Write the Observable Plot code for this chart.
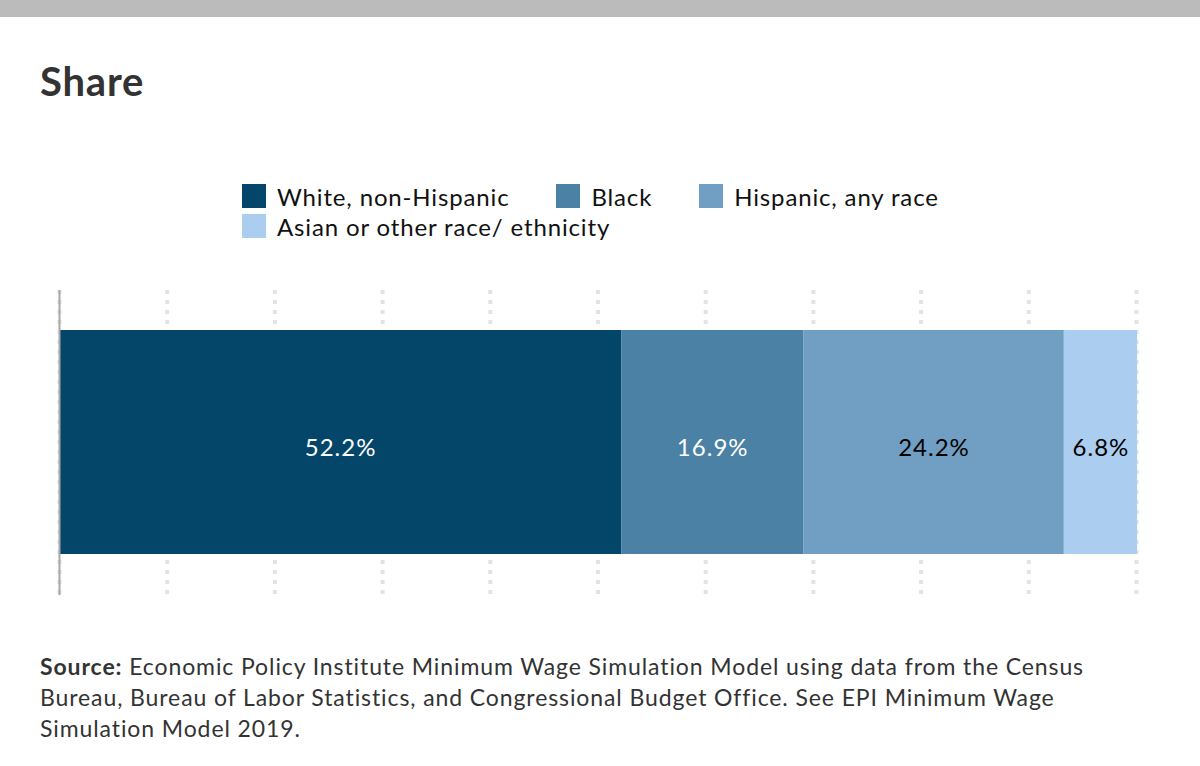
<!DOCTYPE html>
<html>
<head>
<meta charset="utf-8">
<script src="https://cdn.jsdelivr.net/npm/d3@7"></script>
<script src="https://cdn.jsdelivr.net/npm/@observablehq/plot@0.6"></script>
<style>
  body { margin: 0; background: #fff; font-family: Lato, sans-serif; color: #333; }
  #wrap { position: relative; width: 1200px; height: 766px; overflow: hidden; }
  #topbar { position: absolute; left: 0; top: 0; width: 1200px; height: 17px; background: #bbbbbb; }
  #title { position: absolute; left: 40px; top: 57px; font-size: 40px; letter-spacing: 0.8px; font-weight: 700; color: #333; }
  #legend { position: absolute; left: 242px; top: 181px; width: 760px; display: flex; flex-wrap: wrap; }
  .item { display: flex; align-items: center; height: 30px; margin-right: 47px; font-size: 24px; letter-spacing: 0.85px; color: #111; }
  .sw { width: 24px; height: 24px; margin-right: 11px; }
  #chart { position: absolute; left: 0; top: 270px; }
  #source { position: absolute; left: 40px; top: 651px; font-size: 23px; letter-spacing: 0.9px; line-height: 31px; color: #333; white-space: nowrap; }
</style>
</head>
<body>
<div id="wrap">
  <div id="topbar"></div>
  <div id="title">Share</div>
  <div id="legend"></div>
  <div id="chart"></div>
  <div id="source"><b>Source:</b> Economic Policy Institute Minimum Wage Simulation Model using data from the Census<br>Bureau, Bureau of Labor Statistics, and Congressional Budget Office. See EPI Minimum Wage<br>Simulation Model 2019.</div>
</div>
<script>
const groups = ["White, non-Hispanic", "Black", "Hispanic, any race", "Asian or other race/ ethnicity"]
const shares = [52.2, 16.9, 24.2, 6.8]
const colors = ["#03466a", "#4a81a4", "#709fc3", "#abcdef"]
const labelColors = ["#fff", "#fff", "#000", "#000"]
const gridTicks = [0, 10, 20, 30, 40, 50, 60, 70, 80, 90, 100]

const data = groups.map((g, i) => ({group: g, value: shares[i], row: "Share", label: labelColors[i]}))

// legend
d3.select('#legend').selectAll('div')
  .data(groups)
  .join('div')
  .attr('class', 'item')
  .html((g, i) => `<span class="sw" style="background:${colors[i]}"></span>${g}`)

let chart = Plot.plot({
  width: 1200,
  height: 345,
  marginLeft: 59,
  marginRight: 64,
  marginTop: 20,
  marginBottom: 20,
  style: {
    fontFamily: "Lato, sans-serif",
    fontSize: "24px",
    letterSpacing: "1px",
    background: "transparent"
  },
  x: { domain: [0, 100], axis: null },
  y: { axis: null, padding: 0.151 },
  color: { domain: groups, range: colors },
  marks: [
    Plot.ruleX(gridTicks, { stroke: "#e3e3e3", strokeWidth: 4, strokeDasharray: "4,6" }),
    Plot.barX(data, Plot.stackX({ x: "value", y: "row", fill: "group", order: groups })),
    Plot.text(data, Plot.stackX({
      x: "value", y: "row", order: groups,
      text: d => d.value.toFixed(1) + "%",
      fill: "label", fontSize: 24, dy: 6
    })),
    Plot.ruleX([0], { stroke: "#a8a8a8", strokeWidth: 2 })
  ]
})
d3.select('#chart').append(() => chart)
</script>
</body>
</html>
